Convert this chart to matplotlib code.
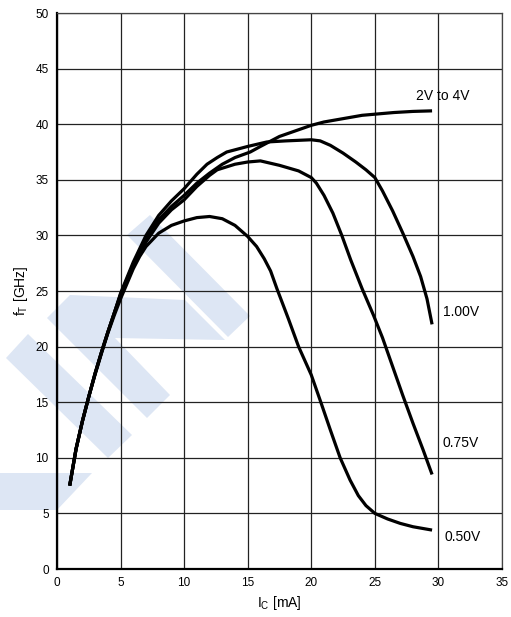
import numpy as np
import matplotlib.pyplot as plt
from matplotlib.patches import Polygon

plt.rcParams['font.family'] = ['Liberation Sans', 'DejaVu Sans']
plt.rcParams['mathtext.fontset'] = 'custom'
plt.rcParams['mathtext.rm'] = 'Liberation Sans'

# Curvas: I_C [mA] x f_T [GHz]
ic_4v = [1, 1.5, 2, 2.5, 3, 3.5, 4, 4.5, 5, 6, 7, 8, 9, 10, 11, 12, 13, 14, 15.2, 16,
         17.5, 19, 20, 21, 22.5, 24, 25, 26.5, 28, 29.5]
ft_4v = [7.5, 10.8, 13.3, 15.5, 17.6, 19.5, 21.3, 23, 24.7, 27.4, 29.7, 31.4, 32.6, 33.6, 34.7,
         35.6, 36.4, 37, 37.5, 38.0, 38.9, 39.5, 39.9, 40.2, 40.5, 40.8, 40.9, 41.05, 41.15, 41.2]

ic_100 = [1, 1.5, 2, 2.5, 3, 3.5, 4, 4.5, 5, 6, 7, 8, 9, 10, 11, 11.8, 12.6, 13.35, 15, 16.5, 18,
          20, 20.7, 21.5, 22.5, 23.5, 24.3, 25, 25.6, 26.4, 27.2, 28, 28.6, 29.1, 29.5]
ft_100 = [7.5, 10.8, 13.3, 15.5, 17.6, 19.5, 21.3, 23, 24.8, 27.6, 30.0, 31.8, 33.1, 34.2, 35.5,
          36.4, 37.0, 37.5, 38.0, 38.4, 38.5, 38.6, 38.5, 38.1, 37.4, 36.6, 35.9, 35.2, 34, 32.2, 30.2,
          28.1, 26.3, 24.3, 22]

ic_075 = [1, 1.5, 2, 2.5, 3, 3.5, 4, 4.5, 5, 6, 7, 8, 9, 10, 11, 12, 12.6, 14, 15, 16, 17.5,
          19, 20, 20.4, 21, 21.7, 22.4, 23.1, 24, 24.9, 25.6, 26.4, 27.2, 28, 28.8, 29.5]
ft_075 = [7.5, 10.8, 13.3, 15.5, 17.6, 19.5, 21.3, 23, 24.6, 27.2, 29.4, 31.1, 32.3, 33.2, 34.4,
          35.4, 35.9, 36.4, 36.6, 36.7, 36.3, 35.8, 35.2, 34.7, 33.6, 32.0, 30, 27.8, 25.2, 22.8,
          20.8, 18.2, 15.6, 13.1, 10.7, 8.5]

ic_050 = [1, 1.5, 2, 2.5, 3, 3.5, 4, 4.5, 5, 6, 6.5, 7, 8, 9, 10, 11, 12, 13, 14, 15, 15.7, 16.3,
          16.8, 17.3, 18.2, 19, 20, 20.75, 21.5, 22.27, 23.05, 23.7, 24.3, 25, 26, 27, 28, 29.5]
ft_050 = [7.5, 10.8, 13.3, 15.5, 17.5, 19.4, 21.2, 22.8, 24.3, 27.0, 28.1, 29.0, 30.2, 30.9, 31.3,
          31.6, 31.7, 31.5, 30.9, 29.9, 29.0, 27.9, 26.8, 25.2, 22.5, 20.0, 17.45, 15.0, 12.5, 10.0,
          8.0, 6.6, 5.7, 5.0, 4.5, 4.1, 3.8, 3.5]

curvas = [(ic_4v, ft_4v), (ic_100, ft_100), (ic_075, ft_075), (ic_050, ft_050)]
rotulos = ['2V to 4V', '1.00V', '0.75V', '0.50V']
pos_rotulos = [(28.2, 42.55), (30.37, 23.1), (30.3, 11.3), (30.5, 2.9)]

W, H = 511, 617
fig = plt.figure(figsize=(W / 100, H / 100), dpi=100)

# Marca d'água (faixas azul-claro), em pixels da figura
cor_marca = '#dde6f4'
faixas = [
    [(127, 235), (150, 215), (250, 316), (228, 337)],
    [(47, 318), (70, 295), (185, 300), (225, 340), (115, 338), (170, 395), (147, 418)],
    [(6, 358), (28, 334), (132, 435), (108, 458)],
    [(0, 473), (92, 473), (57, 510), (0, 510)],
]
for f in faixas:
    pts = [(x / W, 1 - y / H) for x, y in f]
    fig.patches.append(Polygon(pts, closed=True, transform=fig.transFigure,
                               facecolor=cor_marca, edgecolor='none', zorder=-1))

ax = fig.add_axes([57 / W, 48 / H, 445 / W, 556 / H])
ax.set_facecolor('none')

for ic, ft in curvas:
    ax.plot(ic, ft, color='black', lw=2.3, solid_capstyle='butt',
            solid_joinstyle='round', zorder=3)

for texto, (x, y) in zip(rotulos, pos_rotulos):
    ax.text(x, y, texto, fontsize=10, ha='left', va='center', zorder=4)

ax.set_xlim(0, 35)
ax.set_ylim(0, 50)
ax.set_xticks(np.arange(0, 36, 5))
ax.set_yticks(np.arange(0, 51, 5))
ax.grid(True, color='#222222', lw=0.9)
ax.tick_params(length=0, pad=6, labelsize=8.5)

for lado in ['top', 'right']:
    ax.spines[lado].set_linewidth(0.9)
    ax.spines[lado].set_color('#444444')
for lado in ['left', 'bottom']:
    ax.spines[lado].set_linewidth(1.6)

ax.set_xlabel('I$_\\mathregular{C}$ [mA]', fontsize=10, labelpad=3)
ax.set_ylabel('f$_\\mathregular{T}$ [GHz]', fontsize=10, labelpad=4)

fig.savefig('out.png', dpi=100)
